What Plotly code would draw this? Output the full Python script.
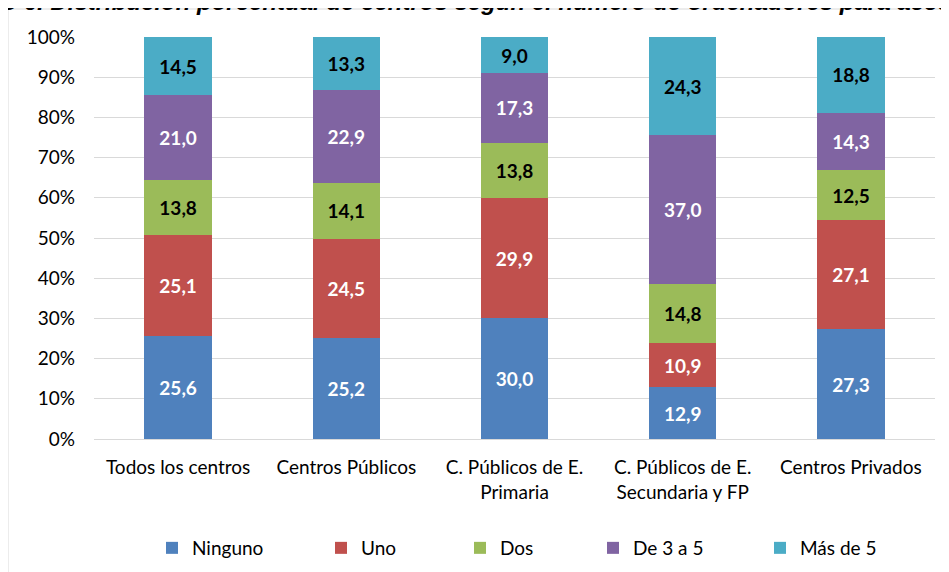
import plotly.graph_objects as go

categories = ["Todos los centros", "Centros Públicos", "C. Públicos de E.<br>Primaria",
              "C. Públicos de E.<br>Secundaria y FP", "Centros Privados"]
ninguno = [25.6, 25.2, 30.0, 12.9, 27.3]
uno = [25.1, 24.5, 29.9, 10.9, 27.1]
dos = [13.8, 14.1, 13.8, 14.8, 12.5]
de3a5 = [21.0, 22.9, 17.3, 37.0, 14.3]
mas5 = [14.5, 13.3, 9.0, 24.3, 18.8]
series_names = ["Ninguno", "Uno", "Dos", "De 3 a 5", "Más de 5"]
tick_vals = [0, 10, 20, 30, 40, 50, 60, 70, 80, 90, 100]
tick_text = [f"{v}%" for v in tick_vals]

colors = ["#4F81BD", "#C0504D", "#9BBB59", "#8064A2", "#4BACC6"]
text_colors = ["white", "white", "black", "white", "black"]
font = "Lato, Carlito, Calibri, sans-serif"
FS = 19

# the page body has an 8px margin; target screen positions are compensated
OFF = 8
L, R, T, B = 94 - OFF, 935 - OFF, 37 - OFF, 439 - OFF
W, H = R - L, B - T

def px_x(p):
    return (p - OFF - L) / W

def px_y(p):
    return (B - (p - OFF)) / H

legend_left_px = [152, 321, 460, 593, 760]
legend_names = ["legend", "legend2", "legend3", "legend4", "legend5"]

fig = go.Figure()
for name, vals, c, tc, lg in zip(series_names, [ninguno, uno, dos, de3a5, mas5], colors, text_colors, legend_names):
    fig.add_trace(go.Bar(
        x=categories, y=vals, name=name, marker=dict(color=c, line=dict(width=0)),
        texttemplate="%{y:.1f}", textposition="inside", insidetextanchor="middle",
        textfont=dict(family=font, size=FS, color=tc, weight="bold"),
        constraintext="none", legend=lg,
    ))

legend_layout = {}
for lg, lp in zip(legend_names, legend_left_px):
    legend_layout[lg] = dict(x=px_x(lp), xanchor="left", y=px_y(548), yanchor="middle",
                             orientation="h", font=dict(family=font, size=FS, color="black"),
                             bgcolor="rgba(0,0,0,0)", borderwidth=0)

fig.update_layout(
    barmode="stack", bargap=0.6, separators=",.",
    width=949, height=572,
    margin=dict(l=L, r=949 - R, t=T, b=572 - B, autoexpand=False),
    plot_bgcolor="white", paper_bgcolor="white",
    font=dict(family=font, size=FS, color="black"),
    showlegend=True,
    xaxis=dict(showline=True, linecolor="#D9D9D9", tickfont=dict(size=FS), ticks="",
               automargin=False, ticklabelstandoff=11),
    yaxis=dict(range=[0, 100], tickvals=tick_vals, ticktext=tick_text, showgrid=True,
               gridcolor="#D9D9D9", gridwidth=1, zeroline=False, tickfont=dict(size=FS),
               ticklabelstandoff=18, automargin=False),
    **legend_layout,
)

# chart frame (partially visible)
fx, fy = px_x(8), px_y(9)
fig.add_shape(type="line", xref="paper", yref="paper", x0=fx, x1=1.2, y0=fy, y1=fy,
              line=dict(color="#D9D9D9", width=1))
fig.add_shape(type="line", xref="paper", yref="paper", x0=fx, x1=fx, y0=fy, y1=-0.5,
              line=dict(color="#D9D9D9", width=1))

# title, clipped at the top of the image as in the reference
fig.add_annotation(xref="paper", yref="paper", x=px_x(-69), y=px_y(17), xanchor="left",
                   yanchor="bottom", showarrow=False,
                   text="<b><i>Gráfico 6. Distribución porcentual de centros según el número de ordenadores para acceso a Internet</i></b>",
                   font=dict(family="Liberation Sans, Arial, sans-serif", size=24, color="black"))

fig.write_html("out.html")
